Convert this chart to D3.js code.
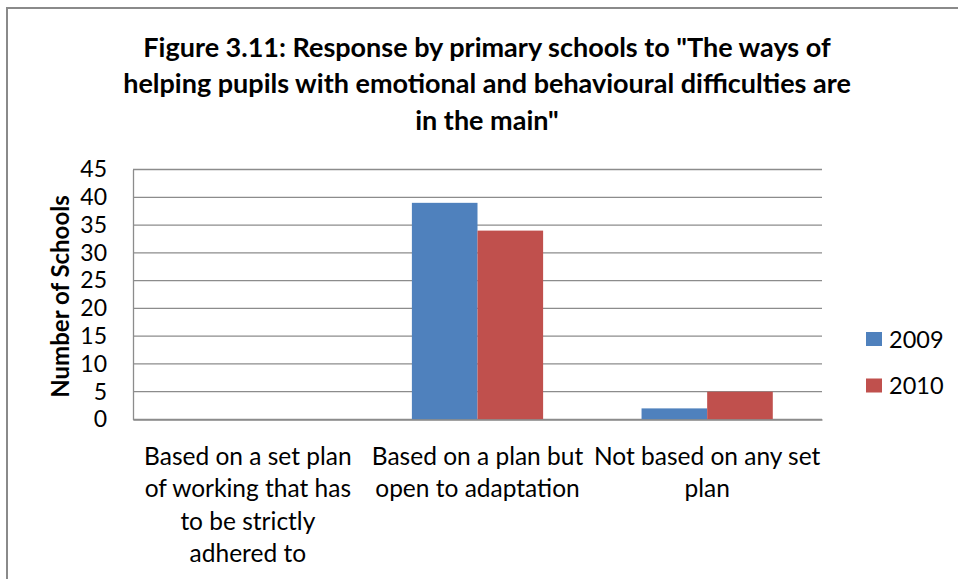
<!DOCTYPE html>
<html>
<head>
<meta charset="utf-8">
<script src="https://cdn.jsdelivr.net/npm/d3@7"></script>
<style>
  html, body { margin: 0; padding: 0; background: #fff; }
  svg { display: block; font-family: Lato, "Open Sans", sans-serif; }
</style>
</head>
<body>
<svg id="chart" width="958" height="579"></svg>
<script>
// Survey responses: number of primary schools per answer, by year
const categories = [
  ["Based on a set plan", "of working that has", "to be strictly", "adhered to"],
  ["Based on a plan but", "open to adaptation"],
  ["Not based on any set", "plan"]
];
const seriesNames = ["2009", "2010"];
const values2009 = [0, 39, 2];
const values2010 = [0, 34, 5];
const yTicks = [0, 5, 10, 15, 20, 25, 30, 35, 40, 45];
const titleLines = [
  "Figure 3.11: Response by primary schools to \"The ways of",
  "helping pupils with emotional and behavioural difficulties are",
  "in the main\""
];
const colors = ["#4F81BD", "#C0504D"];

const svg = d3.select("#chart");
const W = 958, H = 579;
const plot = { left: 133, right: 822, top: 169.5, bottom: 419.5 };

// outer chart frame (runs off the right and bottom edges)
svg.append("rect")
  .attr("x", 7).attr("y", 8)
  .attr("width", W + 10).attr("height", H + 10)
  .attr("fill", "#fff").attr("stroke", "#8a8a8a").attr("stroke-width", 2);

// title
const title = svg.append("text")
  .attr("text-anchor", "middle")
  .attr("font-weight", "bold")
  .attr("font-size", 27)
  .attr("fill", "#000");
titleLines.forEach((t, i) => {
  title.append("tspan").attr("x", 487).attr("y", 57 + i * 36.3).text(t);
});

const keys = categories.map((c, i) => i);
const x0 = d3.scaleBand().domain(keys).range([plot.left, plot.right]).paddingInner(0).paddingOuter(0);
const x1 = d3.scaleBand().domain(seriesNames).range([0, x0.bandwidth()]).paddingInner(0).paddingOuter(0.75);
const y = d3.scaleLinear().domain([0, 45]).range([plot.bottom, plot.top]);

// horizontal gridlines
svg.append("g")
  .selectAll("line")
  .data(yTicks)
  .join("line")
  .attr("x1", plot.left).attr("x2", plot.right)
  .attr("y1", d => y(d)).attr("y2", d => y(d))
  .attr("stroke", "#8c8c8c").attr("stroke-width", 1.3);

// bars
const seriesData = [values2009, values2010];
seriesNames.forEach((name, si) => {
  svg.append("g")
    .selectAll("rect")
    .data(seriesData[si].map((v, i) => ({ i, v })))
    .join("rect")
    .attr("x", d => x0(d.i) + x1(name))
    .attr("width", x1.bandwidth())
    .attr("y", d => y(d.v))
    .attr("height", d => y(0) - y(d.v))
    .attr("fill", colors[si]);
});

// y axis
const yAxis = d3.axisLeft(y).tickValues(yTicks).tickSize(0).tickPadding(26);
const gy = svg.append("g").attr("transform", `translate(${plot.left},0)`).call(yAxis);
gy.select(".domain").attr("stroke", "#8c8c8c").attr("stroke-width", 1.3);
gy.selectAll("text").attr("font-size", 23).attr("fill", "#000").attr("font-family", "Lato, sans-serif");

// x axis baseline
const xAxis = d3.axisBottom(x0).tickSize(0).tickFormat(() => "");
const gx = svg.append("g").attr("transform", `translate(0,${plot.bottom})`).call(xAxis);
gx.select(".domain").attr("stroke", "#8c8c8c").attr("stroke-width", 1.3);

// category labels (multi-line)
categories.forEach((lines, i) => {
  const t = svg.append("text")
    .attr("text-anchor", "middle")
    .attr("font-size", 24.5)
    .attr("fill", "#000");
  lines.forEach((ln, j) => {
    t.append("tspan")
      .attr("x", x0(i) + x0.bandwidth() / 2)
      .attr("y", 465 + j * 32.3)
      .text(ln);
  });
});

// y axis title
svg.append("text")
  .attr("transform", `translate(69,${(plot.top + plot.bottom) / 2 + 2}) rotate(-90)`)
  .attr("text-anchor", "middle")
  .attr("font-weight", "bold")
  .attr("font-size", 24)
  .attr("fill", "#000")
  .text("Number of Schools");

// legend
const legend = svg.append("g");
seriesNames.forEach((name, i) => {
  const ly = 332 + i * 46.5;
  legend.append("rect")
    .attr("x", 866).attr("y", ly)
    .attr("width", 16).attr("height", 14)
    .attr("fill", colors[i]);
  legend.append("text")
    .attr("x", 889).attr("y", ly + 15.5)
    .attr("font-size", 23.5)
    .attr("fill", "#000")
    .text(name);
});
</script>
</body>
</html>
